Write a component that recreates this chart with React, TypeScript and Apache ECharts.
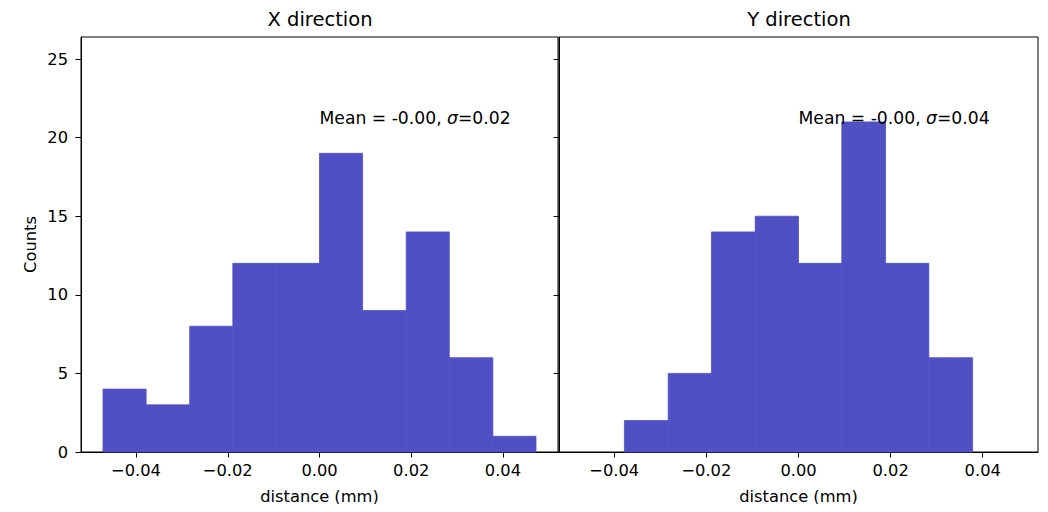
import React, { useEffect, useRef } from "react";
import * as echarts from "echarts";

const binEdges = [-0.0472, -0.0378, -0.0283, -0.0189, -0.0094, 0.0, 0.0094, 0.0189, 0.0283, 0.0378, 0.0472];
const xCounts = [4, 3, 8, 12, 12, 19, 9, 14, 6, 1];
const yCounts = [0, 2, 5, 14, 15, 12, 21, 12, 6, 0];
const panelTitles = ["X direction", "Y direction"];
const statTexts = [["-0.00", "0.02"], ["-0.00", "0.04"]];
const xTicks = [-0.04, -0.02, 0, 0.02, 0.04];
const yTicks = [0, 5, 10, 15, 20, 25];
const xRange = [-0.052, 0.052];
const yRange = [0, 26.4];
const textAnchor = [0, 21];

const FONT = "DejaVu Sans, sans-serif";
const FS = 16.3;
const FS_NOTE = 17.2;
const BAR = "#5050c4";

function fmtX(v: number) {
  const s = Math.abs(v).toFixed(2);
  if (Math.abs(v) < 1e-9) return "0.00";
  return v < 0 ? "\u2212" + s : s;
}

export default function App() {
  const ref = useRef<HTMLDivElement>(null);
  useEffect(() => {
    if (!ref.current) return;
    const chart = echarts.init(ref.current, null, { renderer: "svg" });
    const grids = [
      { left: 81, right: 490, top: 37, bottom: 60 },
      { left: 559, right: 10, top: 37, bottom: 60 },
    ];
    const hist = (counts: number[]) =>
      counts.map((c, i) => [binEdges[i], binEdges[i + 1], c]);
    const barSeries = (idx: number, counts: number[]) => ({
      type: "custom",
      xAxisIndex: idx,
      yAxisIndex: idx,
      z: 2,
      data: hist(counts),
      encode: { x: [0, 1], y: 2 },
      renderItem: (params: any, api: any) => {
        const p0 = api.coord([api.value(0), 0]);
        const p1 = api.coord([api.value(1), api.value(2)]);
        const h = p0[1] - p1[1];
        if (h <= 0) return null;
        return {
          type: "rect",
          shape: { x: p0[0], y: p1[1], width: p1[0] - p0[0], height: h },
          style: { fill: BAR, stroke: BAR, lineWidth: 0.8 },
        };
      },
    });
    const textSeries = (idx: number) => ({
      type: "custom",
      xAxisIndex: idx,
      yAxisIndex: idx,
      z: 5,
      data: [[textAnchor[0], textAnchor[1]]],
      renderItem: (params: any, api: any) => {
        const p = api.coord([api.value(0), api.value(1)]);
        return {
          type: "text",
          x: p[0],
          y: p[1] + 5,
          style: {
            text: `{n|Mean = ${statTexts[idx][0]}, }{i|\u03c3}{n|=${statTexts[idx][1]}}`,
            align: "left",
            verticalAlign: "bottom",
            rich: {
              n: { fontFamily: FONT, fontSize: FS_NOTE, fill: "#000", color: "#000" },
              i: { fontFamily: FONT, fontSize: FS_NOTE, fontStyle: "italic", fill: "#000", color: "#000" },
            },
          },
        };
      },
    });
    const xAxis = (idx: number) => ({
      type: "value",
      gridIndex: idx,
      min: xRange[0],
      max: xRange[1],
      name: "distance (mm)",
      nameLocation: "middle",
      nameGap: 36,
      nameTextStyle: { fontFamily: FONT, fontSize: FS, color: "#000" },
      axisLine: { show: true, onZero: false, lineStyle: { color: "#000", width: 1 } },
      axisTick: { show: true, length: 5.5, customValues: xTicks, lineStyle: { color: "#000" } },
      axisLabel: {
        show: true,
        customValues: xTicks,
        margin: 10,
        formatter: (v: number) => fmtX(v),
        fontFamily: FONT,
        fontSize: FS,
        color: "#000",
      },
      splitLine: { show: false },
    });
    const yAxis = (idx: number) => ({
      type: "value",
      gridIndex: idx,
      min: yRange[0],
      max: yRange[1],
      name: idx === 0 ? "Counts" : "",
      nameLocation: "middle",
      nameGap: 43,
      nameTextStyle: { fontFamily: FONT, fontSize: FS, color: "#000" },
      axisLine: { show: true, onZero: false, lineStyle: { color: "#000", width: 1 } },
      axisTick: { show: true, length: 5.5, customValues: yTicks, lineStyle: { color: "#000" } },
      axisLabel: {
        show: idx === 0,
        customValues: yTicks,
        margin: 13,
        fontFamily: FONT,
        fontSize: FS,
        color: "#000",
      },
      splitLine: { show: false },
    });
    chart.setOption({
      animation: false,
      backgroundColor: "#fff",
      title: panelTitles.map((t, i) => ({
        text: t,
        left: i === 0 ? 320 : 799,
        top: 9,
        padding: 0,
        textAlign: "center",
        textStyle: { fontFamily: FONT, fontSize: 19.5, fontWeight: "normal", color: "#000" },
      })),
      grid: grids.map((g) => ({ ...g, show: true, borderColor: "#000", borderWidth: 1, backgroundColor: "transparent" })),
      xAxis: [xAxis(0), xAxis(1)],
      yAxis: [yAxis(0), yAxis(1)],
      series: [barSeries(0, xCounts), barSeries(1, yCounts), textSeries(0), textSeries(1)],
    });
    return () => chart.dispose();
  }, []);
  return <div ref={ref} style={{ width: 1048, height: 512, margin: -8 }} />;
}
